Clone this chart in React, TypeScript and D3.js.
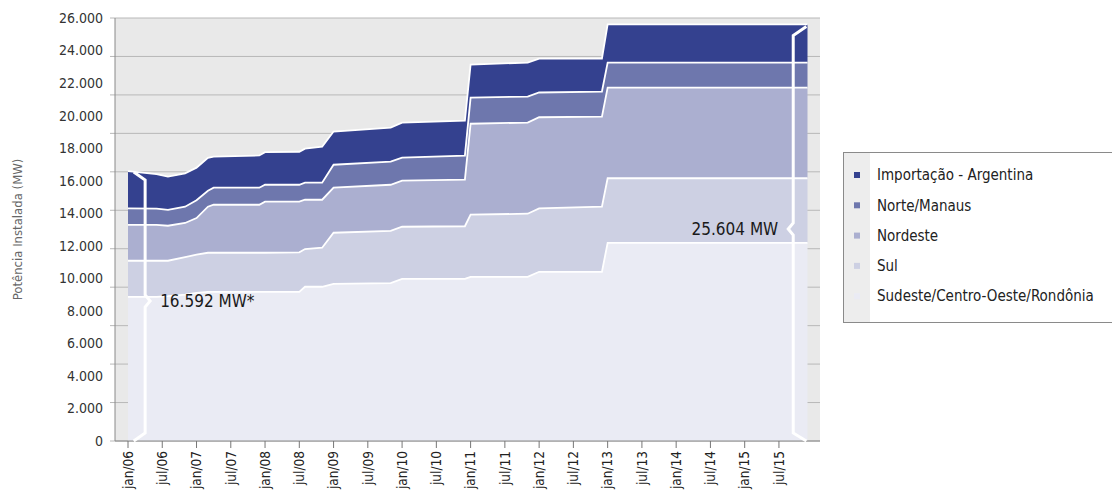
import * as d3 from 'd3';
import React, { useEffect, useRef } from 'react';

// breakpoints of the step series (month, yyyy-mm)
const months = ["2006-01", "2006-06", "2006-08", "2006-11", "2007-01", "2007-03", "2007-04", "2007-12",
  "2008-01", "2008-07", "2008-08", "2008-11", "2009-01", "2009-11", "2010-01", "2010-12",
  "2011-01", "2011-11", "2012-01", "2012-12", "2013-01", "2015-12"];

// MW per region
const sudeste = [8860, 8860, 8900, 9000, 9100, 9170, 9170, 9170, 9170, 9170, 9480, 9480, 9660, 9700, 9960, 9960, 10090, 10090, 10400, 10400, 12180, 12180];
const sul = [2220, 2220, 2180, 2300, 2350, 2400, 2400, 2400, 2400, 2430, 2320, 2400, 3140, 3220, 3210, 3240, 3820, 3880, 3900, 4000, 3970, 3970];
const nordeste = [2210, 2210, 2150, 2100, 2250, 2830, 2950, 2950, 3140, 3110, 3030, 2950, 2770, 2830, 2830, 2860, 5590, 5600, 5600, 5540, 5570, 5570];
const norte = [1010, 990, 980, 1000, 1100, 980, 1050, 1050, 1040, 1040, 1050, 1050, 1410, 1420, 1420, 1480, 1600, 1600, 1520, 1540, 1540, 1540];
const importacao = [2292, 2120, 2040, 2050, 2000, 2020, 1910, 1980, 2000, 2030, 2090, 2210, 2040, 2090, 2150, 2150, 2040, 2090, 2080, 2020, 2344, 2344];

const seriesKeys = ["sudeste", "sul", "nordeste", "norte", "importacao"];
const seriesNames = ["Sudeste/Centro-Oeste/Rondônia", "Sul", "Nordeste", "Norte/Manaus", "Importação - Argentina"];
const seriesColors = ["#eaebf4", "#cdd0e3", "#abafd0", "#6e77ad", "#34418f"];

const xTickLabels = ["jan/06", "jul/06", "jan/07", "jul/07", "jan/08", "jul/08", "jan/09", "jul/09", "jan/10", "jul/10",
  "jan/11", "jul/11", "jan/12", "jul/12", "jan/13", "jul/13", "jan/14", "jul/14", "jan/15", "jul/15"];
const yTicks = [0, 2000, 4000, 6000, 8000, 10000, 12000, 14000, 16000, 18000, 20000, 22000, 24000, 26000];

const startLabel = "16.592 MW*";
const endLabel = "25.604 MW";

const FONT = "'Liberation Sans Narrow', 'DejaVu Sans Condensed', 'Arial Narrow', sans-serif";

const monthIndex = (s: string) => {
  const [yy, mm] = s.split("-").map(Number);
  return (yy - 2006) * 12 + (mm - 1);
};
const labelIndex = (s: string) => {
  const [m, yy] = s.split("/");
  return (2000 + Number(yy) - 2006) * 12 + (m === "jan" ? 0 : 6);
};

function App() {
  const ref = useRef<SVGSVGElement>(null);

  useEffect(() => {
    const svg = d3.select(ref.current);
    svg.selectAll("*").remove();

    const x = d3.scaleLinear().domain([0, 119]).range([128, 807.5]);
    const y = d3.scaleLinear().domain([0, 26000]).range([441, 18]);
    const left = 115, right = 820;

    const pt = d3.formatLocale({ decimal: ",", thousands: ".", grouping: [3], currency: ["R$", ""] }).format(",.0f");

    const rows: any[] = months.map((m, i) => ({
      t: monthIndex(m), sudeste: sudeste[i], sul: sul[i], nordeste: nordeste[i], norte: norte[i], importacao: importacao[i]
    }));
    const stacked = d3.stack<any>().keys(seriesKeys)(rows);

    // plot background
    svg.append("rect").attr("x", left).attr("y", y(26000)).attr("width", right - left)
      .attr("height", y(0) - y(26000)).attr("fill", "#e9e9e9");

    // grid (11 divisions, as drawn in the source)
    const gridVals = d3.range(12).map(i => i * 26000 / 11);
    svg.append("g").selectAll("line").data(gridVals).enter().append("line")
      .attr("x1", left - 5).attr("x2", right)
      .attr("y1", d => y(d)).attr("y2", d => y(d))
      .attr("stroke", "#b8b8b8").attr("stroke-width", 1);

    const area = d3.area<any>().x(d => x(d.data.t)).y0(d => y(d[0])).y1(d => y(d[1]));
    const topLine = d3.line<any>().x(d => x(d.data.t)).y(d => y(d[1]));

    svg.append("g").selectAll("path").data(stacked).enter().append("path")
      .attr("d", area).attr("fill", (_d, i) => seriesColors[i]);
    svg.append("g").selectAll("path").data(stacked).enter().append("path")
      .attr("d", topLine).attr("fill", "none").attr("stroke", "#fff").attr("stroke-width", 1.8);

    // axes
    svg.append("line").attr("x1", left).attr("x2", left).attr("y1", y(26000)).attr("y2", y(0))
      .attr("stroke", "#8a8a8a");
    svg.append("line").attr("x1", left).attr("x2", right).attr("y1", y(0)).attr("y2", y(0))
      .attr("stroke", "#8a8a8a");

    svg.append("g").selectAll("text").data(yTicks).enter().append("text")
      .attr("x", 103).attr("y", d => y(d)).attr("dy", "0.35em").attr("text-anchor", "end")
      .attr("font-family", FONT).attr("font-size", 14).attr("fill", "#333")
      .text(d => pt(d));

    svg.append("text").attr("transform", `translate(22,${y(13000)}) rotate(-90)`)
      .attr("text-anchor", "middle").attr("font-family", FONT).attr("font-size", 13).attr("fill", "#666")
      .text("Potência Instalada (MW)");

    const xt = svg.append("g").selectAll("g").data(xTickLabels).enter().append("g")
      .attr("transform", d => `translate(${x(labelIndex(d))},${y(0)})`);
    xt.append("line").attr("y1", 0).attr("y2", 7).attr("stroke", "#777");
    xt.append("text").attr("transform", "translate(0,10) rotate(-90)").attr("dy", "0.35em")
      .attr("text-anchor", "end").attr("font-family", FONT).attr("font-size", 13.5).attr("fill", "#222")
      .text(d => d);

    // brackets with totals
    const first = stacked[stacked.length - 1][0][1];
    const last = stacked[stacked.length - 1][rows.length - 1][1];
    const bx = x(3), by0 = y(0), byTop = y(first), byNote = 301;
    const leftBracket = d3.path();
    leftBracket.moveTo(x(1), byTop + 1);
    leftBracket.lineTo(bx, byTop + 9);
    leftBracket.lineTo(bx, byNote - 6);
    leftBracket.lineTo(bx + 5, byNote);
    leftBracket.lineTo(bx, byNote + 6);
    leftBracket.lineTo(bx, by0 - 8);
    leftBracket.lineTo(x(1), by0);
    svg.append("path").attr("d", leftBracket.toString()).attr("fill", "none")
      .attr("stroke", "#fff").attr("stroke-width", 3);
    svg.append("text").attr("x", bx + 15).attr("y", byNote).attr("dy", "0.35em")
      .attr("font-family", FONT).attr("font-size", 17).attr("fill", "#1a1a1a").text(startLabel);

    const rx = x(116.5), ryTop = y(last), ryNote = 229;
    const rightBracket = d3.path();
    rightBracket.moveTo(x(118.8), ryTop + 2);
    rightBracket.lineTo(rx, ryTop + 11);
    rightBracket.lineTo(rx, ryNote - 6);
    rightBracket.lineTo(rx - 5, ryNote);
    rightBracket.lineTo(rx, ryNote + 6);
    rightBracket.lineTo(rx, by0 - 8);
    rightBracket.lineTo(x(118.8), by0);
    svg.append("path").attr("d", rightBracket.toString()).attr("fill", "none")
      .attr("stroke", "#fff").attr("stroke-width", 3);
    svg.append("text").attr("x", rx - 15).attr("y", ryNote).attr("dy", "0.35em").attr("text-anchor", "end")
      .attr("font-family", FONT).attr("font-size", 17).attr("fill", "#1a1a1a").text(endLabel);

    // legend
    const lg = svg.append("g");
    lg.append("rect").attr("x", 843.5).attr("y", 152.5).attr("width", 280).attr("height", 170)
      .attr("fill", "#fff").attr("stroke", "#8a8a8a");
    lg.append("rect").attr("x", 844).attr("y", 153).attr("width", 26).attr("height", 169).attr("fill", "#ededed");
    const order = d3.range(seriesKeys.length).reverse();
    const li = lg.selectAll("g.item").data(order).enter().append("g")
      .attr("transform", (_d, j) => `translate(0,${175 + j * 30.3})`);
    li.append("rect").attr("x", 854).attr("y", -3).attr("width", 6).attr("height", 6)
      .attr("fill", d => seriesColors[d]);
    li.append("text").attr("x", 877).attr("dy", "0.35em").attr("font-family", FONT).attr("font-size", 15)
      .attr("fill", "#222").text(d => seriesNames[d]);
  }, []);

  return (
    <svg ref={ref} width={1112} height={504} style={{ position: "absolute", left: 0, top: 0, background: "#fff" }} />
  );
}

export default App;
